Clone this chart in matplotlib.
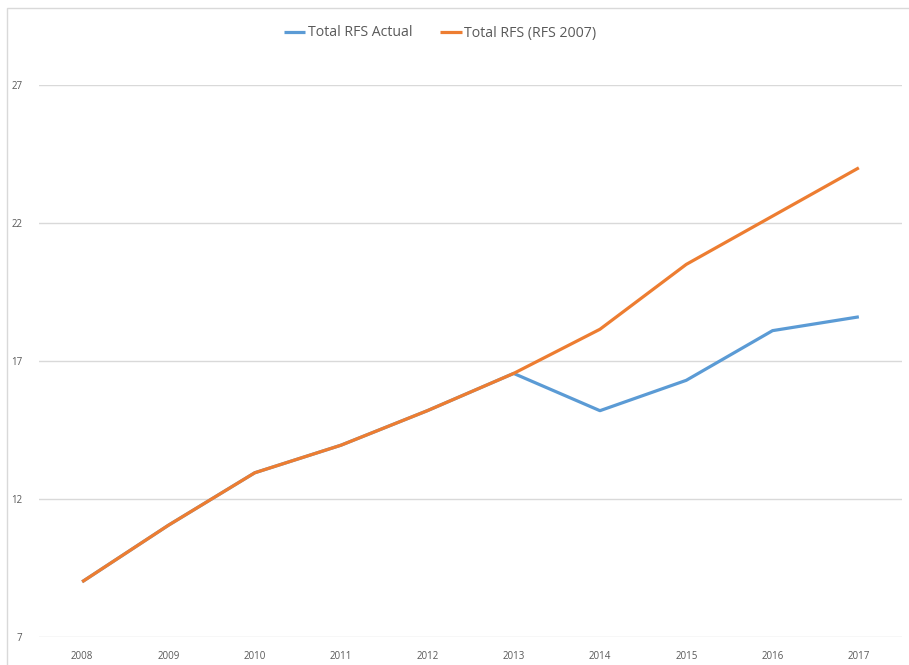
import matplotlib
matplotlib.use("Agg")
import matplotlib.pyplot as plt
from matplotlib.patches import Rectangle

years = ["2008", "2009", "2010", "2011", "2012", "2013", "2014", "2015", "2016", "2017"]
rfs_actual = [9.0, 11.05, 12.95, 13.95, 15.2, 16.55, 15.2, 16.3, 18.1, 18.6]
rfs_2007 = [9.0, 11.05, 12.95, 13.95, 15.2, 16.55, 18.15, 20.5, 22.25, 24.0]
yticks = [7, 12, 17, 22, 27]

plt.rcParams['font.family'] = ['Open Sans', 'DejaVu Sans']

W, H = 909, 665
fig = plt.figure(figsize=(W / 100, H / 100), dpi=100)
fig.patches.append(Rectangle((7 / W, -0.1), 1.2, (H - 8) / H + 0.1, transform=fig.transFigure,
                             fill=False, edgecolor='#D9D9D9', linewidth=1.0, zorder=0))

ax = fig.add_axes([39 / W, (H - 637) / H, (902 - 39) / W, (637 - 85) / H])
x = list(range(len(years)))
ax.plot(x, rfs_actual, color='#5B9BD5', linewidth=2.3, label='Total RFS Actual', solid_capstyle='butt')
ax.plot(x, rfs_2007, color='#ED7D31', linewidth=2.3, label='Total RFS (RFS 2007)', solid_capstyle='butt')

ax.set_xlim(-0.5, len(years) - 0.5)
ax.set_ylim(7, 27)
ax.set_yticks(yticks)
ax.set_yticklabels([str(v) for v in yticks])
ax.set_xticks(x)
ax.set_xticklabels(years)
ax.grid(axis='y', color='#D9D9D9', linewidth=1.0)
ax.set_axisbelow(True)
for s in ax.spines.values():
    s.set_visible(False)
ax.tick_params(length=0, labelsize=7, labelcolor='#595959')
ax.tick_params(axis='x', pad=10)
ax.tick_params(axis='y', pad=12)

fig.legend(loc='center', bbox_to_anchor=(440 / W, 1 - 33 / H), ncol=2, frameon=False,
           fontsize=10.2, handlelength=1.5, handletextpad=0.15, columnspacing=2.0,
           labelcolor='#595959')

fig.savefig('out.png', dpi=100, facecolor='white')
